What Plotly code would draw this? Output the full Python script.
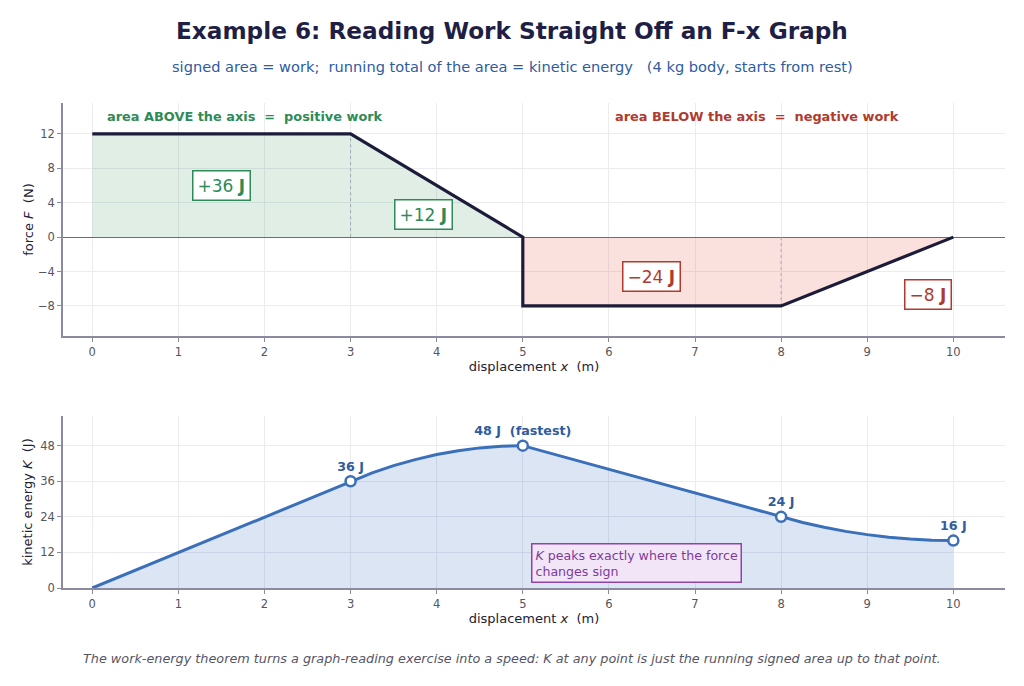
import plotly.graph_objects as go

# ---------------- data ----------------
x_force = [0, 3, 5, 5, 8, 10]
F_force = [12, 12, 0, -8, -8, 0]
x_pos_area = [0, 3, 5]
F_pos_area = [12, 12, 0]
x_neg_area = [5, 8, 10]
F_neg_area = [-8, -8, 0]

area_labels = ["+36 <b>J</b>", "+12 <b>J</b>", "\u221224 <b>J</b>", "\u22128 <b>J</b>"]
area_x = [1.5, 3.85, 6.5, 9.7]
area_y = [6.0, 2.6, -4.6, -6.7]

x_K = [0, 1, 2, 3, 3.25, 3.5, 3.75, 4, 4.25, 4.5, 4.75, 5, 6, 7, 8,
       8.25, 8.5, 8.75, 9, 9.25, 9.5, 9.75, 10]
K_vals = [0, 12, 24, 36, 38.8, 41.25, 43.3, 45, 46.3, 47.25, 47.8, 48, 40, 32, 24,
          22.1, 20.5, 19.1, 18, 17.1, 16.5, 16.1, 16]

mark_x = [3, 5, 8, 10]
mark_K = [36, 48, 24, 16]
mark_labels = ["36 J", "48 J  (fastest)", "24 J", "16 J"]

x_ticks = list(range(0, 11))
F_ticks = [-8, -4, 0, 4, 8, 12]
K_ticks = [0, 12, 24, 36, 48]

# ---------------- styles ----------------
FONT = "DejaVu Sans"
GREEN = "#2e8b57"
RED = "#b03a2e"
BLUE = "#3a6fba"
NAVY = "#1c1c3a"
SPINE = "#8a8aa0"
GRID = "#ebebf0"

fig = go.Figure()

# top panel
fig.add_trace(go.Scatter(x=x_pos_area, y=F_pos_area, fill="tozeroy", mode="none",
                         fillcolor="rgba(46,139,87,0.15)", xaxis="x", yaxis="y",
                         hoverinfo="skip", showlegend=False))
fig.add_trace(go.Scatter(x=x_neg_area, y=F_neg_area, fill="tozeroy", mode="none",
                         fillcolor="rgba(231,76,60,0.17)", xaxis="x", yaxis="y",
                         hoverinfo="skip", showlegend=False))
# dotted dividers
fig.add_trace(go.Scatter(x=[x_force[1], x_force[1]], y=[0, F_force[1]], mode="lines",
                         line=dict(color="#a8a8b4", width=1, dash="dot"),
                         xaxis="x", yaxis="y", showlegend=False, hoverinfo="skip"))
fig.add_trace(go.Scatter(x=[x_force[4], x_force[4]], y=[0, F_force[4]], mode="lines",
                         line=dict(color="#a8a8b4", width=1, dash="dot"),
                         xaxis="x", yaxis="y", showlegend=False, hoverinfo="skip"))
fig.add_trace(go.Scatter(x=x_force, y=F_force, mode="lines",
                         line=dict(color=NAVY, width=3.2),
                         xaxis="x", yaxis="y", showlegend=False))

# bottom panel
fig.add_trace(go.Scatter(x=x_K, y=K_vals, mode="lines", fill="tozeroy",
                         fillcolor="rgba(58,111,186,0.18)",
                         line=dict(color=BLUE, width=3),
                         xaxis="x2", yaxis="y2", showlegend=False))
fig.add_trace(go.Scatter(x=mark_x, y=mark_K, mode="markers+text",
                         marker=dict(size=10, color="white", line=dict(color=BLUE, width=2.5)),
                         text=["<b>" + t + "</b>" for t in mark_labels],
                         textposition="top center",
                         textfont=dict(family=FONT, size=12.7, color="#2e5c9e"),
                         xaxis="x2", yaxis="y2", showlegend=False))

axis_common = dict(
    showgrid=True, gridcolor=GRID, gridwidth=1,
    showline=True, linecolor=SPINE, linewidth=1.6,
    ticks="outside", tickcolor=SPINE, ticklen=4,
    tickfont=dict(family=FONT, size=11.5, color="#555560"),
    zeroline=False, automargin=False,
)

annotations = []
for t, ax_, ay_, c in zip(area_labels, area_x, area_y, [GREEN, GREEN, RED, RED]):
    annotations.append(dict(x=ax_, y=ay_, xref="x", yref="y", text=t, showarrow=False,
                            font=dict(family=FONT, size=17, color=c),
                            bgcolor="white", bordercolor=c, borderwidth=1.5, borderpad=4))

annotations += [
    dict(x=0.15, y=14.0, xref="x", yref="y", xanchor="left", showarrow=False,
         text="<b>area ABOVE the axis  =  positive work</b>",
         font=dict(family=FONT, size=12.9, color=GREEN)),
    dict(x=6.05, y=14.0, xref="x", yref="y", xanchor="left", showarrow=False,
         text="<b>area BELOW the axis  =  negative work</b>",
         font=dict(family=FONT, size=12.9, color=RED)),
    dict(x=5.1, y=8.5, xref="x2", yref="y2", xanchor="left", showarrow=False, align="left",
         text="<i>K</i> peaks exactly where the force<br>changes sign",
         font=dict(family=FONT, size=12.6, color="#7d3c98"),
         bgcolor="#f3e5f8", bordercolor="#8e44ad", borderwidth=1.5, borderpad=3),
    dict(x=0.5, y=1 - 30 / 686, xref="paper", yref="paper", showarrow=False,
         xanchor="center", yanchor="middle",
         text="<b>Example 6: Reading Work Straight Off an F-x Graph</b>",
         font=dict(family=FONT, size=23.2, color="#1f1f45")),
    dict(x=0.5, y=1 - 67 / 686, xref="paper", yref="paper", showarrow=False,
         xanchor="center", yanchor="middle",
         text="signed area = work;  running total of the area = kinetic energy   (4 kg body, starts from rest)",
         font=dict(family=FONT, size=14.6, color="#2e5c9e")),
    dict(x=0.5, y=1 - 658 / 686, xref="paper", yref="paper", showarrow=False,
         xanchor="center", yanchor="middle",
         text="<i>The work-energy theorem turns a graph-reading exercise into a speed: K at any point is just the running signed area up to that point.</i>",
         font=dict(family=FONT, size=12.8, color="#555566")),
]

fig.update_layout(
    width=1024, height=686,
    margin=dict(l=0, r=0, t=0, b=0, autoexpand=False),
    paper_bgcolor="white", plot_bgcolor="white",
    font=dict(family=FONT),
    showlegend=False,
    xaxis=dict(axis_common, domain=[63 / 1024, 1005 / 1024], range=[-0.34, 10.6],
               tickvals=x_ticks, anchor="y",
               title=dict(text="displacement <i>x</i>  (m)", standoff=4,
                          font=dict(family=FONT, size=13, color="#222233"))),
    yaxis=dict(axis_common, domain=[1 - 336 / 686, 1 - 103 / 686], range=[-11.5, 15.6],
               tickvals=F_ticks, ticktext=[str(v).replace("-", "\u2212") for v in F_ticks],
               zeroline=True, zerolinecolor="#6a6a85", zerolinewidth=1.3, anchor="x",
               title=dict(text="force <i>F</i>  (N)", standoff=1,
                          font=dict(family=FONT, size=13, color="#222233"))),
    xaxis2=dict(axis_common, domain=[63 / 1024, 1005 / 1024], range=[-0.34, 10.6],
                tickvals=x_ticks, anchor="y2",
                title=dict(text="displacement <i>x</i>  (m)", standoff=4,
                           font=dict(family=FONT, size=13, color="#222233"))),
    yaxis2=dict(axis_common, domain=[1 - 588 / 686, 1 - 416 / 686], range=[0, 58],
                tickvals=K_ticks, anchor="x2",
                title=dict(text="kinetic energy <i>K</i>  (J)", standoff=5,
                           font=dict(family=FONT, size=13, color="#222233"))),
    annotations=annotations,
)

fig.write_html("out.html", config={"displayModeBar": False},
               post_script="document.body.style.margin='0px';")
